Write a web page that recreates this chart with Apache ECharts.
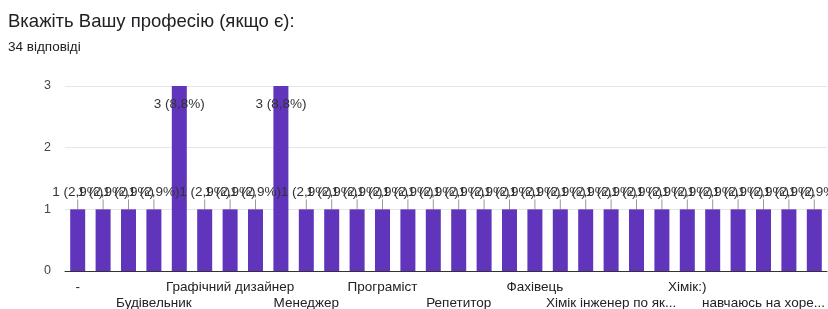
<!DOCTYPE html>
<html>
<head>
<meta charset="utf-8">
<script src="https://cdn.jsdelivr.net/npm/echarts@6/dist/echarts.min.js"></script>
<style>
  html, body { margin: 0; padding: 0; background: #fff; }
  #chart { width: 828px; height: 309px; }
</style>
</head>
<body>
<div id="chart"></div>
<script>
const TITLE = "Вкажіть Вашу професію (якщо є):";
const SUBTITLE = "34 відповіді";
const TOTAL = 34;

// відповіді, відсортовані як у Google Forms
const professions = [
  "-", "Архітектор", "Бариста", "Будівельник", "Вчитель", "Геолог",
  "Графічний дизайнер", "Економіст", "Лікар", "Менеджер", "Музикант", "Перекладач",
  "Програміст", "Продавець", "Психолог", "Репетитор", "Студент", "Тренер",
  "Фахівець", "Фотограф", "Хімік", "Хімік інженер по якості", "Хімік-аналітик", "Хімік-технолог",
  "Хімік:)", "Ювелір", "Юрист", "навчаюсь на хореографа", "немає", "студентка"
];
const counts = [
  1, 1, 1, 1, 3, 1,
  1, 1, 3, 1, 1, 1,
  1, 1, 1, 1, 1, 1,
  1, 1, 1, 1, 1, 1,
  1, 1, 1, 1, 1, 1
];
const yTicks = [0, 1, 2, 3];

const FONT = "'Liberation Sans', Arial, sans-serif";
const X_FONT_SIZE = 13.5;
const W = 828, GRID_LEFT = 65, GRID_RIGHT = 1;
const chart = echarts.init(document.getElementById("chart"));

function pct(v) {
  return (v / TOTAL * 100).toFixed(1).replace(".", ",") + "%";
}

// обрізає довгі назви як Google Forms (з урахуванням правого краю)
const ctx = document.createElement("canvas").getContext("2d");
ctx.font = X_FONT_SIZE + "px " + FONT;
function shortName(v, i) {
  const step = (W - GRID_LEFT - GRID_RIGHT) / professions.length;
  const cx = GRID_LEFT + (i + 0.5) * step;
  const maxW = Math.min(132, 2 * (W - cx) - 4);
  if (ctx.measureText(v).width <= maxW) return v;
  let s = v;
  while (s.length > 1 && ctx.measureText(s + "...").width > maxW) s = s.slice(0, -1);
  return s.trimEnd() + "...";
}

// два ряди підписів: кожна третя назва, по черзі
function xAxisRow(offsetIdx, margin, showLine) {
  return {
    type: "category",
    data: professions,
    position: "bottom",
    axisTick: { show: false },
    axisLine: { show: showLine, lineStyle: { color: "#333", width: 1 } },
    axisLabel: {
      interval: i => i % 6 === offsetIdx,
      hideOverlap: false,
      color: "#222",
      fontSize: X_FONT_SIZE,
      margin: margin,
      formatter: (v, i) => shortName(v, i),
    },
  };
}

chart.setOption({
  backgroundColor: "#fff",
  animation: false,
  textStyle: { fontFamily: FONT },
  title: {
    text: TITLE,
    subtext: SUBTITLE,
    left: 8,
    top: 12,
    padding: 0,
    itemGap: 9,
    textStyle: { fontSize: 18.5, fontWeight: "normal", color: "#202124", fontFamily: FONT },
    subtextStyle: { fontSize: 13.5, color: "#202124", fontFamily: FONT },
  },
  grid: { left: GRID_LEFT, right: GRID_RIGHT, top: 86, bottom: 38, outerBoundsMode: "none" },
  xAxis: [xAxisRow(0, 9, true), xAxisRow(3, 25, false)],
  yAxis: {
    type: "value",
    min: yTicks[0],
    max: yTicks[yTicks.length - 1],
    interval: 1,
    axisLabel: { color: "#444", fontSize: 12.5, margin: 14 },
    splitLine: { lineStyle: { color: "#e6e6e6" } },
  },
  series: [{
    type: "bar",
    xAxisIndex: 0,
    data: counts.map(v => ({
      value: v,
      label: v === 3
        ? { position: "insideTop", distance: 11 }
        : { position: "top", distance: 2 },
    })),
    barWidth: 15,
    itemStyle: { color: "#6035bb" },
    label: {
      show: true,
      color: "#333",
      fontSize: 13.5,
      formatter: p => p.value + " (" + pct(p.value) + ")",
    },
    labelLayout: p => (p.dataIndex === 4 || p.dataIndex === 8 ? {} : { dy: -8 }),
    labelLine: { show: true, lineStyle: { color: "#999", width: 1 } },
  }],
});
</script>
</body>
</html>
